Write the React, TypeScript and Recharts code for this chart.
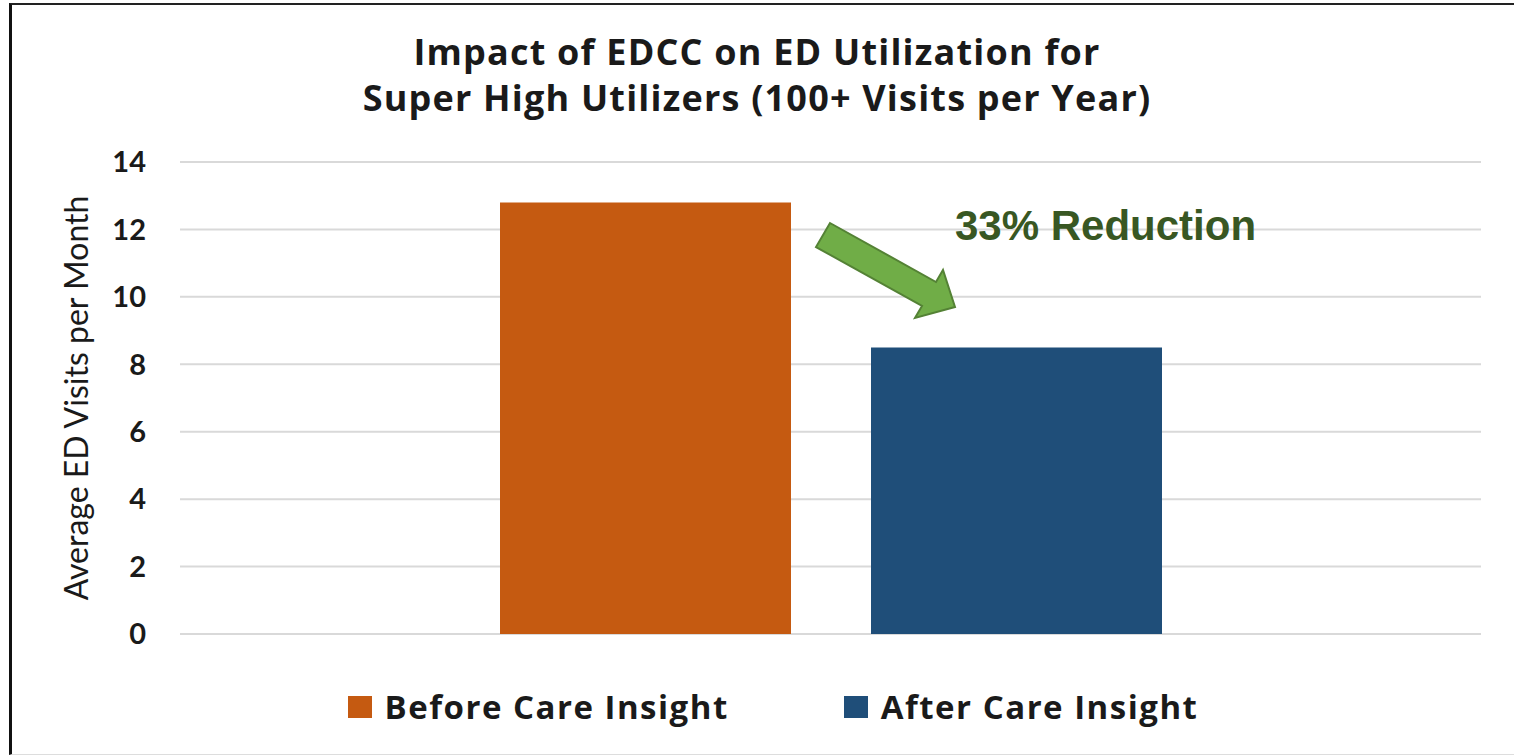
import { BarChart, Bar, XAxis, YAxis, CartesianGrid } from 'recharts';

const categories = ['Super High Utilizers'];
const beforeValues = [12.8];
const afterValues = [8.5];
const yTicks = [0, 2, 4, 6, 8, 10, 12, 14];

const seriesNames = ['Before Care Insight', 'After Care Insight'];
const colors = ['#C55A11', '#1F4E79'];

const data = categories.map((name, i) => ({
  name,
  before: beforeValues[i],
  after: afterValues[i],
}));

export default function App() {
  return (
    <div style={{ position: 'absolute', left: 0, top: 0, width: 1514, height: 756, background: '#fff', overflow: 'hidden' }}>
      {/* frame */}
      <div
        style={{
          position: 'absolute',
          left: 9,
          top: 3,
          width: 1520,
          height: 749,
          borderLeft: '3px solid #111',
          borderTop: '2px solid #222',
          borderBottom: '1px solid #ddd',
        }}
      />
      <div
        style={{
          position: 'absolute',
          left: 0,
          top: 29,
          width: 1514,
          textAlign: 'center',
          fontFamily: '"Open Sans", sans-serif',
          fontWeight: 700,
          fontSize: 36,
          letterSpacing: 1.2,
          lineHeight: '46px',
          color: '#1a1a1a',
        }}
      >
        Impact of EDCC on ED Utilization for
        <br />
        Super High Utilizers (100+ Visits per Year)
      </div>

      <div style={{ position: 'absolute', left: 0, top: 0 }}>
        <BarChart
          width={1514}
          height={756}
          data={data}
          margin={{ top: 162, right: 33, bottom: 122, left: 0 }}
          barGap={80}
          barSize={291}
        >
          <CartesianGrid vertical={false} stroke="#d9d9d9" strokeWidth={2} />
          <XAxis dataKey="name" hide />
          <YAxis
            width={180}
            domain={[0, 14]}
            ticks={yTicks}
            axisLine={false}
            tickLine={false}
            tickSize={0}
            tickMargin={34}
            tick={{ fill: '#1a1a1a', fontSize: 29, fontWeight: 700, fontFamily: 'Lato, sans-serif' }}
            label={{
              value: 'Average ED Visits per Month',
              angle: -90,
              position: 'insideLeft',
              dx: 72,
              dy: 0,
              style: { textAnchor: 'middle', fill: '#1a1a1a', fontSize: 32, fontFamily: 'Lato, sans-serif' },
            }}
          />
          <Bar dataKey="before" name={seriesNames[0]} fill={colors[0]} isAnimationActive={false} />
          <Bar dataKey="after" name={seriesNames[1]} fill={colors[1]} isAnimationActive={false} />
        </BarChart>
      </div>

      {/* annotation */}
      <svg style={{ position: 'absolute', left: 0, top: 0 }} width={1514} height={756}>
        <polygon
          points="830,223 936,282 943,270 955,307 915,318 922,306 816,247"
          fill="#70AD47"
          stroke="#548235"
          strokeWidth={2}
          strokeLinejoin="miter"
        />
        <text
          x={955}
          y={240}
          fill="#385723"
          fontSize={42}
          fontWeight={700}
          fontFamily='"Liberation Sans", Arial, sans-serif'
        >
          33% Reduction
        </text>
      </svg>

      {/* legend */}
      <div
        style={{
          position: 'absolute',
          left: 0,
          top: 684,
          width: 1514,
          display: 'flex',
          justifyContent: 'center',
          gap: 115,
          fontFamily: '"Open Sans", sans-serif',
          fontWeight: 700,
          fontSize: 33,
          letterSpacing: 1.5,
          color: '#1a1a1a',
          paddingLeft: 32,
          boxSizing: 'border-box',
        }}
      >
        {seriesNames.map((n, i) => (
          <div key={n} style={{ display: 'flex', alignItems: 'center' }}>
            <span style={{ display: 'inline-block', width: 24, height: 22, background: colors[i], marginRight: 13 }} />
            <span>{n}</span>
          </div>
        ))}
      </div>
    </div>
  );
}
